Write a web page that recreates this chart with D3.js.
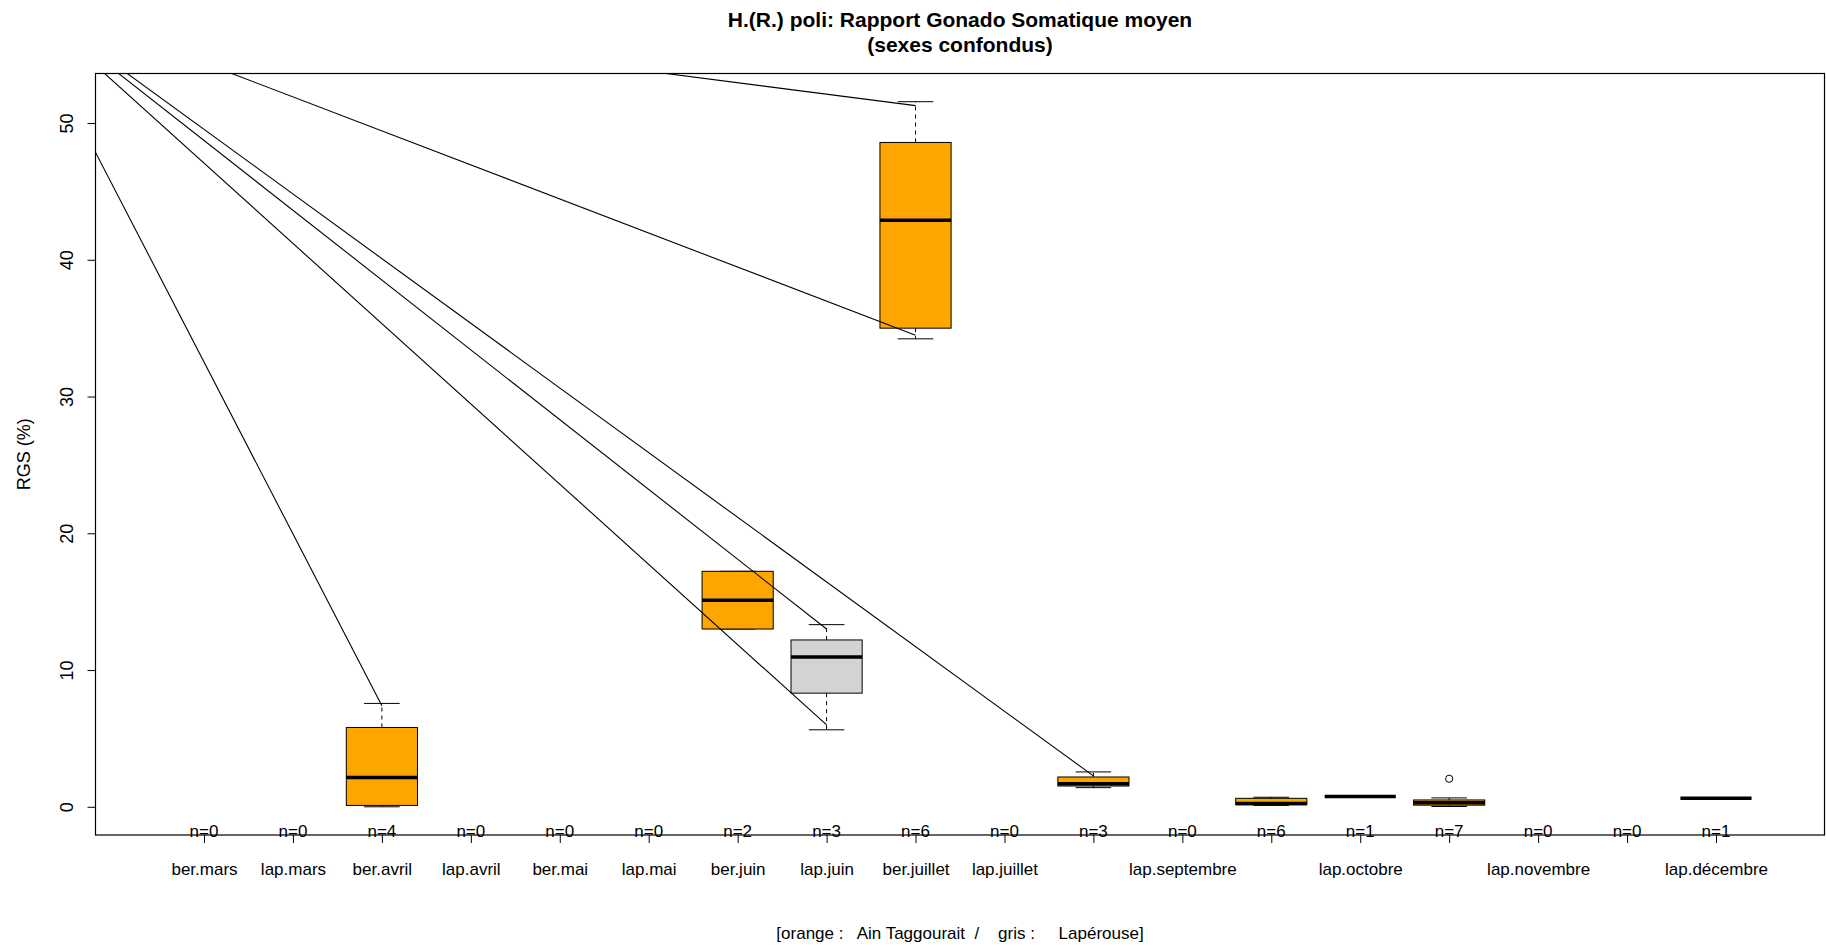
<!DOCTYPE html>
<html>
<head>
<meta charset="utf-8">
<script src="https://cdn.jsdelivr.net/npm/d3@7"></script>
<style>
  html, body { margin: 0; padding: 0; background: #ffffff; }
  svg { display: block; font-family: "Liberation Sans", Arial, Helvetica, sans-serif; }
</style>
</head>
<body>
<svg id="chart" width="1826" height="947"></svg>
<script>
// Monthly groups: "ber" = Ain Taggourait, "lap" = Lapérouse
const categories = ["ber.mars","lap.mars","ber.avril","lap.avril","ber.mai","lap.mai","ber.juin","lap.juin","ber.juillet","lap.juillet","ber.septembre","lap.septembre","ber.octobre","lap.octobre","ber.novembre","lap.novembre","ber.décembre","lap.décembre"];
// Labels kept on the axis (crowded ones are left blank)
const tickLabels = ["ber.mars","lap.mars","ber.avril","lap.avril","ber.mai","lap.mai","ber.juin","lap.juin","ber.juillet","lap.juillet","","lap.septembre","","lap.octobre","","lap.novembre","","lap.décembre"];
const counts = [0,0,4,0,0,0,2,3,6,0,3,0,6,1,7,0,0,1];

// Box statistics of RGS (%) per group (null = no fish)
const whiskerLow  = [null,null,0.00,null,null,null,13.00, 5.63,34.22,null,1.40,null,0.10,0.76,0.02,null,null,0.62];
const quartile1   = [null,null,0.10,null,null,null,13.00, 8.31,35.00,null,1.52,null,0.15,0.76,0.12,null,null,0.62];
const medians     = [null,null,2.15,null,null,null,15.11,10.95,42.89,null,1.69,null,0.25,0.76,0.30,null,null,0.62];
const quartile3   = [null,null,5.80,null,null,null,17.22,12.20,48.58,null,2.18,null,0.62,0.76,0.50,null,null,0.62];
const whiskerHigh = [null,null,7.56,null,null,null,17.22,13.32,51.56,null,2.55,null,0.70,0.76,0.65,null,null,0.62];

// Outlying values
const outlierGroups = ["ber.novembre"];
const outlierValues = [2.05];

// Segments drawn from a common point (in axis units) to group values
const segmentFromX = -1.17;
const segmentFromY = 59.8;
const segmentGroups = ["ber.avril","lap.juin","lap.juin","ber.juillet","ber.juillet","ber.septembre"];
const segmentValues = [7.39, 5.99, 13.00, 34.49, 51.27, 2.26];

const yTicks = [0, 10, 20, 30, 40, 50];

const siteColor = { ber: "#FFA500", lap: "#D3D3D3" };

const svg = d3.select("#chart");
const plotLeft = 95.5, plotRight = 1824.5, plotTop = 73.5, plotBottom = 835;
const fontAxis = 17;

// Scales with the usual 4% padding on both axes
const n = categories.length;
const xPad = 0.04 * n;
const x = d3.scaleLinear().domain([0.5 - xPad, n + 0.5 + xPad]).range([plotLeft, plotRight]);
const allVals = [].concat(whiskerLow, whiskerHigh, outlierValues).filter(v => v != null);
const yMin = d3.min(allVals), yMax = d3.max(allVals);
const yPad = 0.04 * (yMax - yMin);
const y = d3.scaleLinear().domain([yMin - yPad, yMax + yPad]).range([plotBottom, plotTop]);

const pos = name => categories.indexOf(name) + 1;

// Clip region = plot area
svg.append("defs").append("clipPath").attr("id", "plotClip")
  .append("rect").attr("x", plotLeft).attr("y", plotTop)
  .attr("width", plotRight - plotLeft).attr("height", plotBottom - plotTop);

// Boxes
const boxW = 0.8 * (x(1) - x(0));
const capW = boxW / 2;
const groups = categories.map((c, i) => ({
  name: c, i, pos: i + 1, n: counts[i],
  lo: whiskerLow[i], q1: quartile1[i], med: medians[i], q3: quartile3[i], hi: whiskerHigh[i],
  color: siteColor[c.split(".")[0]]
})).filter(d => d.med != null);

const gBox = svg.append("g");
groups.forEach(d => {
  const cx = x(d.pos);
  const g = gBox.append("g");
  // whiskers (dashed)
  g.append("line").attr("x1", cx).attr("x2", cx).attr("y1", y(d.q3)).attr("y2", y(d.hi))
    .attr("stroke", "#000").attr("stroke-width", 1).attr("stroke-dasharray", "4,4");
  g.append("line").attr("x1", cx).attr("x2", cx).attr("y1", y(d.q1)).attr("y2", y(d.lo))
    .attr("stroke", "#000").attr("stroke-width", 1).attr("stroke-dasharray", "4,4");
  // caps
  [d.hi, d.lo].forEach(v => {
    g.append("line").attr("x1", cx - capW / 2).attr("x2", cx + capW / 2)
      .attr("y1", y(v)).attr("y2", y(v)).attr("stroke", "#000").attr("stroke-width", 1);
  });
  // box
  g.append("rect").attr("x", cx - boxW / 2).attr("width", boxW)
    .attr("y", y(d.q3)).attr("height", Math.max(0, y(d.q1) - y(d.q3)))
    .attr("fill", d.color).attr("stroke", "#000").attr("stroke-width", 1);
  // median
  g.append("line").attr("x1", cx - boxW / 2).attr("x2", cx + boxW / 2)
    .attr("y1", y(d.med)).attr("y2", y(d.med)).attr("stroke", "#000").attr("stroke-width", 3.5);
});

// Outliers
svg.append("g").selectAll("circle").data(outlierValues).join("circle")
  .attr("cx", (v, i) => x(pos(outlierGroups[i])))
  .attr("cy", v => y(v)).attr("r", 3.6)
  .attr("fill", "none").attr("stroke", "#000").attr("stroke-width", 1);

// Segments from the common point
svg.append("g").attr("clip-path", "url(#plotClip)")
  .selectAll("line").data(segmentValues).join("line")
  .attr("x1", x(segmentFromX)).attr("y1", y(segmentFromY))
  .attr("x2", (v, i) => x(pos(segmentGroups[i])))
  .attr("y2", v => y(v))
  .attr("stroke", "#000").attr("stroke-width", 1.1);

// Plot frame
svg.append("rect").attr("x", plotLeft).attr("y", plotTop)
  .attr("width", plotRight - plotLeft).attr("height", plotBottom - plotTop)
  .attr("fill", "none").attr("stroke", "#000").attr("stroke-width", 1.2);

// X axis
const xAxis = d3.axisBottom(x)
  .tickValues(d3.range(1, n + 1))
  .tickFormat((d, i) => tickLabels[i])
  .tickSize(8).tickPadding(20);
const gx = svg.append("g").attr("transform", `translate(0,${plotBottom})`).call(xAxis);
gx.select(".domain").remove();
gx.selectAll("text").attr("font-size", fontAxis).attr("font-family", null).attr("fill", "#000");
gx.selectAll("line").attr("stroke", "#000");
gx.attr("font-family", null).attr("font-size", null);

// Y axis
const yAxis = d3.axisLeft(y).tickValues(yTicks).tickSize(8);
const gy = svg.append("g").attr("transform", `translate(${plotLeft},0)`).call(yAxis);
gy.select(".domain").remove();
gy.attr("font-family", null).attr("font-size", null);
gy.selectAll("line").attr("stroke", "#000");
gy.selectAll("text")
  .attr("x", null).attr("dy", null)
  .attr("text-anchor", "middle")
  .attr("transform", "translate(-23,0) rotate(-90)")
  .attr("font-size", 18).attr("fill", "#000");

// Group sizes along the bottom edge
svg.append("g").selectAll("text").data(counts).join("text")
  .attr("x", (v, i) => x(i + 1)).attr("y", plotBottom + 2)
  .attr("text-anchor", "middle").attr("font-size", fontAxis)
  .text(v => "n=" + v);

// Y label
svg.append("text")
  .attr("transform", `translate(30,${(plotTop + plotBottom) / 2}) rotate(-90)`)
  .attr("text-anchor", "middle").attr("font-size", 18)
  .text("RGS (%)");

// Title
const cxMid = (plotLeft + plotRight) / 2;
svg.append("text").attr("x", cxMid).attr("y", 27).attr("text-anchor", "middle")
  .attr("font-size", 21).attr("font-weight", "bold")
  .text("H.(R.) poli: Rapport Gonado Somatique moyen");
svg.append("text").attr("x", cxMid).attr("y", 52).attr("text-anchor", "middle")
  .attr("font-size", 21).attr("font-weight", "bold")
  .text("(sexes confondus)");

// Colour key below the axis
svg.append("text").attr("x", cxMid).attr("y", 939).attr("text-anchor", "middle")
  .attr("font-size", fontAxis).style("white-space", "pre")
  .text("[orange :   Ain Taggourait  /    gris :     Lapérouse]");
</script>
</body>
</html>
